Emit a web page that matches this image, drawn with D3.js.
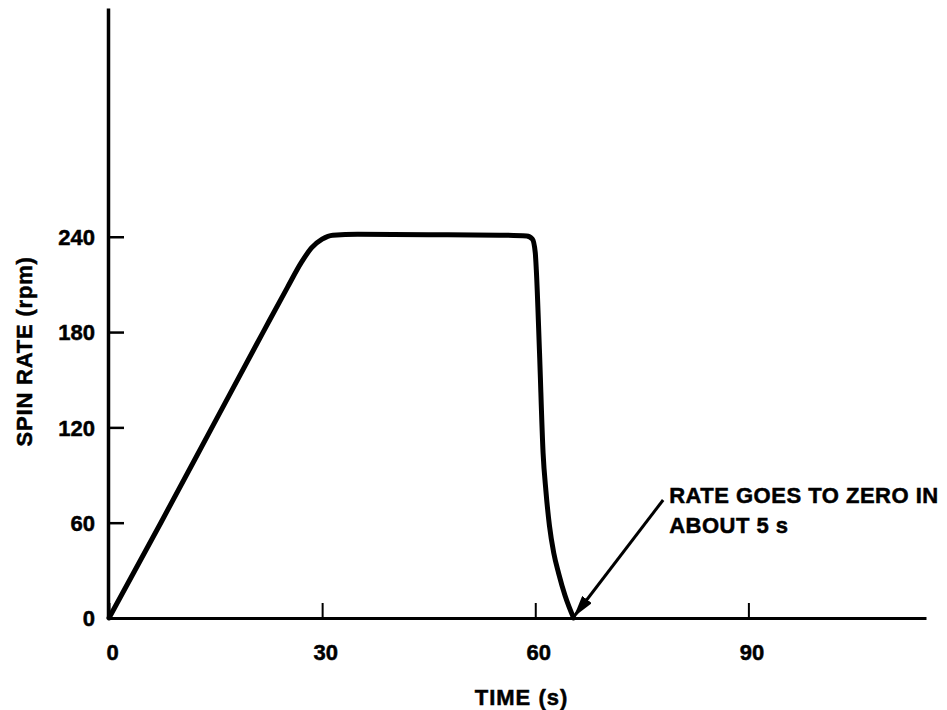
<!DOCTYPE html>
<html>
<head>
<meta charset="utf-8">
<script src="https://cdn.jsdelivr.net/npm/d3@7"></script>
<style>
  html, body { margin: 0; padding: 0; background: #fff; }
  svg { display: block; }
  text { font-family: "Liberation Sans", Arial, Helvetica, sans-serif; font-weight: bold; fill: #000; stroke: #000; stroke-width: 0.5px; }
</style>
</head>
<body>
<svg id="chart" width="947" height="710"></svg>
<script>
// ---- data ----
const timeS = [0, 7.3, 14.5, 21.7, 25.1, 27.1, 28.5, 30, 31.5, 35, 45, 55, 58.8, 59.6, 60.0, 60.15, 60.6, 61.1, 61.5, 62.0, 62.6, 63.3, 64.2, 65.4];
const spinRpm = [0, 60, 120, 180, 208, 224, 233, 238.5, 241, 241.5, 241.3, 241, 240.5, 238.5, 230, 219, 167, 104, 80, 58, 41, 28, 14, 0];
const xTicks = [0, 30, 60, 90];
const yTicks = [0, 60, 120, 180, 240];
const xTitle = "TIME (s)";
const yTitle = "SPIN RATE (rpm)";
const noteLines = ["RATE GOES TO ZERO IN", "ABOUT 5 s"];
const noteTail = [78.0, 74.3];   // data coords of arrow tail
const noteTip = [65.4, 0];       // data coords of arrow tip

// ---- chart ----
const svg = d3.select("#chart");
const x = d3.scaleLinear().domain([0, 115]).range([109, 926]);
const y = d3.scaleLinear().domain([0, 384]).range([618, 8]);

// x axis
const gx = svg.append("g").attr("transform", `translate(0,${y(0)})`)
  .call(d3.axisBottom(x).tickValues(xTicks).tickFormat(d3.format("d"))
    .tickSizeInner(-15).tickSizeOuter(0).tickPadding(26));
gx.select(".domain").attr("stroke", "#000").attr("stroke-width", 3);
gx.selectAll(".tick line").attr("stroke", "#000").attr("stroke-width", 2);
gx.selectAll(".tick text").attr("font-size", 22).attr("dx", 3)
  .style("font-family", '"Liberation Sans", Arial, sans-serif').style("font-weight", "bold");

// y axis
const gy = svg.append("g").attr("transform", `translate(${x(0) - 1},0)`)
  .call(d3.axisLeft(y).tickValues(yTicks).tickFormat(d3.format("d"))
    .tickSizeInner(-16).tickSizeOuter(0).tickPadding(13));
gy.select(".domain").attr("stroke", "#000").attr("stroke-width", 3.5);
gy.selectAll(".tick line").attr("stroke", "#000").attr("stroke-width", 2.5);
gy.selectAll(".tick text").attr("font-size", 22).attr("dy", "0.36em")
  .style("font-family", '"Liberation Sans", Arial, sans-serif').style("font-weight", "bold");

// axis titles
svg.append("text")
  .attr("x", (x.range()[0] + x.range()[1]) / 2 + 4)
  .attr("y", 705)
  .attr("text-anchor", "middle")
  .attr("font-size", 22)
  .attr("letter-spacing", 1)
  .text(xTitle);

svg.append("text")
  .attr("transform", `translate(32,${(y(0) + y(240)) / 2 - 76}) rotate(-90)`)
  .attr("text-anchor", "middle")
  .attr("font-size", 22)
  .attr("letter-spacing", 0.8)
  .text(yTitle);

// curve
const pts = timeS.map((t, i) => [t, spinRpm[i]]);
const line = d3.line().x(d => x(d[0])).y(d => y(d[1])).curve(d3.curveMonotoneX);
svg.append("path")
  .attr("d", line(pts))
  .attr("fill", "none")
  .attr("stroke", "#000")
  .attr("stroke-width", 5)
  .attr("stroke-linejoin", "round")
  .attr("stroke-linecap", "round");

// annotation arrow
const defs = svg.append("defs");
defs.append("marker")
  .attr("id", "ah")
  .attr("viewBox", "0 0 22 12")
  .attr("refX", 22).attr("refY", 6)
  .attr("markerWidth", 22).attr("markerHeight", 12)
  .attr("markerUnits", "userSpaceOnUse")
  .attr("orient", "auto")
  .append("path").attr("d", "M0,0 L22,6 L0,12 Z").attr("fill", "#000");

svg.append("line")
  .attr("x1", x(noteTail[0])).attr("y1", y(noteTail[1]))
  .attr("x2", x(noteTip[0])).attr("y2", y(noteTip[1]) - 1)
  .attr("stroke", "#000").attr("stroke-width", 3)
  .attr("marker-end", "url(#ah)");

const note = svg.append("text")
  .attr("font-size", 22)
  .attr("letter-spacing", 0.5);
noteLines.forEach((s, i) => {
  note.append("tspan")
    .attr("x", x(noteTail[0]) + 6)
    .attr("y", y(noteTail[1]) + 3 + i * 30)
    .text(s);
});
</script>
</body>
</html>
